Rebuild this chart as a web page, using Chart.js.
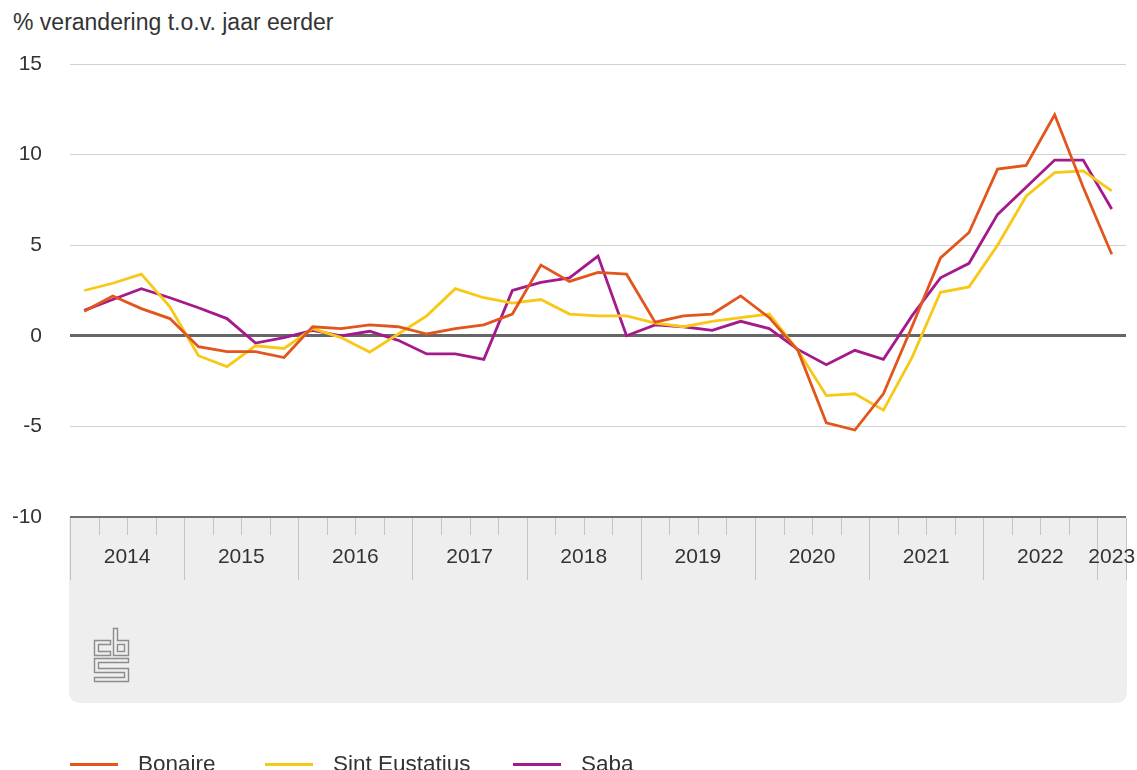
<!DOCTYPE html>
<html>
<head>
<meta charset="utf-8">
<script src="https://cdn.jsdelivr.net/npm/chart.js@4.4.1/dist/chart.umd.min.js"></script>
<style>
  html, body { margin: 0; padding: 0; background: #ffffff; overflow: hidden; }
  body { width: 1137px; height: 770px; position: relative; font-family: "Liberation Sans", Arial, sans-serif; color: #333; }
  #title { position: absolute; left: 13px; top: 11px; font-size: 23px; line-height: 22px; white-space: nowrap; }
  #chart { position: absolute; left: 0; top: 0; }
  .lg { position: absolute; top: 753px; height: 22px; display: flex; align-items: center; font-size: 22.5px; line-height: 22px; white-space: nowrap; }
  .lg .sw { width: 48px; height: 3px; margin-right: 20px; }
  .lg0 { left: 70px; } .lg1 { left: 265px; } .lg2 { left: 513px; }
</style>
</head>
<body>
<div id="title">% verandering t.o.v. jaar eerder</div>
<canvas id="chart" width="1137" height="770"></canvas>
<div id="legend"></div>
<script>
const categories = [
  '2014 K1','2014 K2','2014 K3','2014 K4',
  '2015 K1','2015 K2','2015 K3','2015 K4',
  '2016 K1','2016 K2','2016 K3','2016 K4',
  '2017 K1','2017 K2','2017 K3','2017 K4',
  '2018 K1','2018 K2','2018 K3','2018 K4',
  '2019 K1','2019 K2','2019 K3','2019 K4',
  '2020 K1','2020 K2','2020 K3','2020 K4',
  '2021 K1','2021 K2','2021 K3','2021 K4',
  '2022 K1','2022 K2','2022 K3','2022 K4',
  '2023 K1'
];
const yearLabels = ['2014','2015','2016','2017','2018','2019','2020','2021','2022','2023'];
const yTicks = [-10, -5, 0, 5, 10, 15];

const bonaire = [1.35, 2.2, 1.5, 0.95, -0.6, -0.87, -0.87, -1.2, 0.5, 0.4, 0.6, 0.5,
  0.1, 0.4, 0.6, 1.2, 3.9, 3.0, 3.5, 3.4, 0.75, 1.1, 1.2, 2.2,
  1.0, -0.8, -4.8, -5.2, -3.2, 0.5, 4.3, 5.7, 9.2, 9.4, 12.2, 8.2, 4.5];
const sintEustatius = [2.5, 2.9, 3.4, 1.6, -1.1, -1.7, -0.55, -0.7, 0.4, -0.1, -0.9, 0.1,
  1.1, 2.6, 2.1, 1.8, 2.0, 1.2, 1.1, 1.1, 0.7, 0.5, 0.8, 1.0,
  1.2, -0.8, -3.3, -3.2, -4.1, -1.2, 2.4, 2.7, 5.0, 7.7, 9.0, 9.1, 8.0];
const saba = [1.4, 2.0, 2.6, 2.1, 1.55, 0.95, -0.4, -0.1, 0.3, 0.0, 0.25, -0.25,
  -1.0, -1.0, -1.3, 2.5, 2.95, 3.2, 4.4, 0.0, 0.6, 0.5, 0.3, 0.8,
  0.4, -0.75, -1.6, -0.8, -1.3, 1.1, 3.2, 4.0, 6.7, 8.2, 9.7, 9.7, 7.0];

const seriesNames = ['Bonaire', 'Sint Eustatius', 'Saba'];
const seriesColors = ['#e2561e', '#f8c816', '#a51a8a'];
const seriesValues = [bonaire, sintEustatius, saba];

const FONT = '"Liberation Sans", Arial, sans-serif';

// HTML legend
const legendEl = document.getElementById('legend');
seriesNames.forEach((name, i) => {
  const item = document.createElement('div');
  item.className = 'lg lg' + i;
  const sw = document.createElement('span');
  sw.className = 'sw';
  sw.style.background = seriesColors[i];
  item.appendChild(sw);
  const t = document.createElement('span');
  t.textContent = name;
  item.appendChild(t);
  legendEl.appendChild(item);
});

function drawLogo(ctx, ox, oy) {
  ctx.save();
  ctx.translate(ox + 0.5, oy + 0.5);
  ctx.strokeStyle = '#8c8c8c';
  ctx.lineWidth = 1.4;
  ctx.lineJoin = 'miter';
  // "c"
  ctx.beginPath();
  ctx.moveTo(16, 12); ctx.lineTo(0, 12); ctx.lineTo(0, 27); ctx.lineTo(16, 27);
  ctx.lineTo(16, 23); ctx.lineTo(4, 23); ctx.lineTo(4, 16); ctx.lineTo(16, 16); ctx.closePath();
  ctx.stroke();
  // "b"
  ctx.beginPath();
  ctx.moveTo(19, 0); ctx.lineTo(23, 0); ctx.lineTo(23, 12); ctx.lineTo(34, 12);
  ctx.lineTo(34, 27); ctx.lineTo(19, 27); ctx.closePath();
  ctx.stroke();
  ctx.strokeRect(23, 16, 7, 7);
  // "s"
  ctx.beginPath();
  ctx.moveTo(34, 30); ctx.lineTo(0, 30); ctx.lineTo(0, 44); ctx.lineTo(30, 44);
  ctx.lineTo(30, 49); ctx.lineTo(0, 49); ctx.lineTo(0, 53); ctx.lineTo(34, 53);
  ctx.lineTo(34, 40); ctx.lineTo(4, 40); ctx.lineTo(4, 34); ctx.lineTo(34, 34); ctx.closePath();
  ctx.stroke();
  ctx.restore();
}

const xPanel = {
  id: 'xPanel',
  beforeDraw(chart) {
    const ctx = chart.ctx;
    const x = chart.scales.x;
    const left = chart.chartArea.left - 1, right = chart.chartArea.right + 1;
    const top = x.top, bottom = x.bottom, r = 12;
    ctx.save();
    ctx.fillStyle = '#eeeeee';
    ctx.beginPath();
    ctx.moveTo(left, top);
    ctx.lineTo(right, top);
    ctx.lineTo(right, bottom - r);
    ctx.quadraticCurveTo(right, bottom, right - r, bottom);
    ctx.lineTo(left + r, bottom);
    ctx.quadraticCurveTo(left, bottom, left, bottom - r);
    ctx.closePath();
    ctx.fill();
    ctx.restore();
    drawLogo(ctx, left + 25, top + 111);
  },
  afterDraw(chart) {
    const ctx = chart.ctx;
    const x = chart.scales.x;
    const n = categories.length;
    const half = (x.getPixelForValue(1) - x.getPixelForValue(0)) / 2;
    const boundary = i => x.getPixelForValue(i) - half;
    ctx.save();
    ctx.strokeStyle = '#c4c4c4';
    ctx.lineWidth = 1;
    for (let i = 0; i <= n; i++) {
      const bx = Math.round(boundary(i)) + 0.5;
      const isYear = (i % 4 === 0) || i === n;
      ctx.beginPath();
      ctx.moveTo(bx, x.top + 1);
      ctx.lineTo(bx, x.top + (isYear ? 63 : 18));
      ctx.stroke();
    }
    ctx.fillStyle = '#333333';
    ctx.font = '21px ' + FONT;
    ctx.textAlign = 'center';
    ctx.textBaseline = 'middle';
    yearLabels.forEach((yl, j) => {
      const s = j * 4, e = Math.min(j * 4 + 4, n);
      const cx = (boundary(s) + boundary(e)) / 2;
      ctx.fillText(yl, cx, x.top + 40);
    });
    ctx.restore();
  }
};

new Chart(document.getElementById('chart'), {
  type: 'line',
  data: {
    labels: categories,
    datasets: seriesNames.map((name, i) => ({
      label: name,
      data: seriesValues[i],
      borderColor: seriesColors[i],
      backgroundColor: seriesColors[i],
      borderWidth: 2.8,
      pointRadius: 0,
      tension: 0,
      fill: false
    }))
  },
  options: {
    responsive: false,
    animation: false,
    devicePixelRatio: 1,
    layout: { padding: { top: 64, left: 13, right: 11, bottom: 67 } },
    plugins: { legend: { display: false }, title: { display: false }, tooltip: { enabled: false } },
    scales: {
      x: {
        type: 'category',
        offset: true,
        grid: { display: false },
        border: { display: false },
        ticks: { display: false },
        afterFit(scale) { scale.height = 186; }
      },
      y: {
        min: yTicks[0],
        max: yTicks[yTicks.length - 1],
        afterBuildTicks(scale) { scale.ticks = yTicks.map(v => ({ value: v })); },
        afterFit(scale) { scale.width = 57; },
        border: { display: false },
        grid: {
          drawTicks: false,
          color: ctx => (ctx.tick && ctx.tick.value === 0) ? '#666666' : (ctx.tick && ctx.tick.value === -10 ? '#707070' : '#d2d2d2'),
          lineWidth: ctx => (ctx.tick && ctx.tick.value === 0) ? 3 : (ctx.tick && ctx.tick.value === -10 ? 2 : 1)
        },
        ticks: {
          padding: 28,
          color: '#333333',
          font: { family: FONT, size: 21 }
        }
      }
    }
  },
  plugins: [xPanel]
});
</script>
</body>
</html>
